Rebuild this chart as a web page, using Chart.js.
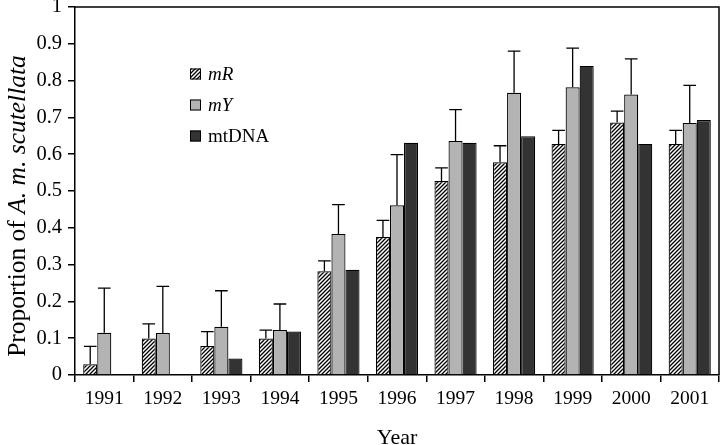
<!DOCTYPE html>
<html>
<head>
<meta charset="utf-8">
<script src="https://cdn.jsdelivr.net/npm/chart.js@4.4.0/dist/chart.umd.min.js"></script>
<style>
  html, body { margin: 0; padding: 0; background: #fff; }
  #wrap { width: 720px; height: 445px; }
</style>
</head>
<body>
<div id="wrap"><canvas id="chart" width="720" height="445"></canvas></div>
<script>
// data
const years = ['1991', '1992', '1993', '1994', '1995', '1996', '1997', '1998', '1999', '2000', '2001'];
const mR     = [0.029, 0.099, 0.079, 0.099, 0.282, 0.375, 0.527, 0.578, 0.628, 0.686, 0.628];
const mY     = [0.115, 0.114, 0.131, 0.122, 0.383, 0.461, 0.636, 0.767, 0.782, 0.762, 0.685];
const mtDNA  = [0, 0, 0.045, 0.118, 0.286, 0.631, 0.631, 0.649, 0.840, 0.628, 0.693];
// tops of the error bars
const mRErrTop = [0.078, 0.139, 0.118, 0.122, 0.310, 0.420, 0.563, 0.623, 0.665, 0.717, 0.665];
const mYErrTop = [0.236, 0.241, 0.229, 0.193, 0.463, 0.599, 0.721, 0.880, 0.888, 0.859, 0.787];
const yTickLabels = ['0', '0.1', '0.2', '0.3', '0.4', '0.5', '0.6', '0.7', '0.8', '0.9', '1'];
const seriesNames = ['mR', 'mY', 'mtDNA'];

const SERIF = '"Liberation Serif", "DejaVu Serif", serif';

function hatch() {
    const c = document.createElement('canvas');
    c.width = 4; c.height = 4;
    const g = c.getContext('2d');
    g.fillStyle = '#fff';
    g.fillRect(0, 0, 4, 4);
    g.strokeStyle = '#000';
    g.lineWidth = 1.3;
    g.beginPath();
    g.moveTo(-1, 5); g.lineTo(5, -1);
    g.moveTo(-1, 1); g.lineTo(1, -1);
    g.moveTo(3, 5); g.lineTo(5, 3);
    g.stroke();
    return g.createPattern(c, 'repeat');
}

const ctx = document.getElementById('chart').getContext('2d');
const fills = [hatch(), '#b3b3b3', '#333333'];

// error bars, upper side only
const errorBars = {
    id: 'errorBars',
    afterDatasetsDraw(chart) {
        const c = chart.ctx;
        const y = chart.scales.y;
        c.save();
        c.strokeStyle = '#000';
        c.lineWidth = 1.3;
        chart.data.datasets.forEach((ds, i) => {
            if (!ds.errTop) return;
            chart.getDatasetMeta(i).data.forEach((bar, j) => {
                const top = y.getPixelForValue(ds.errTop[j]);
                const half = bar.width * 0.45;
                c.beginPath();
                c.moveTo(bar.x, bar.y);
                c.lineTo(bar.x, top);
                c.moveTo(bar.x - half, top);
                c.lineTo(bar.x + half, top);
                c.stroke();
            });
        });
        c.restore();
    }
};

// frame, legend and axis titles
const decor = {
    id: 'decor',
    afterDraw(chart) {
        const c = chart.ctx;
        const a = chart.chartArea;
        c.save();
        c.strokeStyle = '#000';
        c.lineWidth = 1.5;
        c.beginPath();
        c.moveTo(a.left, a.top);
        c.lineTo(a.right, a.top);
        c.lineTo(a.right, a.bottom);
        c.stroke();

        // legend
        c.textBaseline = 'middle';
        chart.data.datasets.forEach((ds, i) => {
            const ly = a.top + 67 + i * 31;
            const lx = a.left + 115;
            c.fillStyle = ds.backgroundColor;
            c.fillRect(lx, ly - 5.5, 11, 11);
            c.lineWidth = 1;
            c.strokeStyle = '#000';
            c.strokeRect(lx + 0.5, ly - 5, 10, 10);
            c.fillStyle = '#000';
            c.font = (i < 2 ? 'italic ' : '') + '19px ' + SERIF;
            c.fillText(ds.label, lx + 18, ly + 1);
        });

        // x title
        c.textAlign = 'center';
        c.textBaseline = 'alphabetic';
        c.font = '22px ' + SERIF;
        c.fillText('Year', (a.left + a.right) / 2, 444);

        // y title
        c.textBaseline = 'middle';
        c.translate(18, 206);
        c.rotate(-Math.PI / 2);
        const p1 = 'Proportion of ';
        const p2 = 'A. m. scutellata';
        c.font = '25.5px ' + SERIF;
        const w1 = c.measureText(p1).width;
        c.font = 'italic 25.5px ' + SERIF;
        const w2 = c.measureText(p2).width;
        const x0 = -(w1 + w2) / 2;
        c.textAlign = 'left';
        c.font = '25.5px ' + SERIF;
        c.fillText(p1, x0, 0);
        c.font = 'italic 25.5px ' + SERIF;
        c.fillText(p2, x0 + w1, 0);
        c.restore();
    }
};

new Chart(ctx, {
    type: 'bar',
    data: {
        labels: years,
        datasets: [
            { label: seriesNames[0], data: mR, errTop: mRErrTop, backgroundColor: fills[0] },
            { label: seriesNames[1], data: mY, errTop: mYErrTop, backgroundColor: fills[1] },
            { label: seriesNames[2], data: mtDNA, backgroundColor: fills[2] }
        ].map(d => Object.assign(d, {
            borderColor: '#000',
            borderWidth: 1.2,
            categoryPercentage: 0.72,
            barPercentage: 1.0
        }))
    },
    options: {
        responsive: false,
        animation: false,
        devicePixelRatio: 1,
        layout: { padding: { top: 7, right: 1, left: 0, bottom: 0 } },
        plugins: {
            legend: { display: false },
            tooltip: { enabled: false }
        },
        scales: {
            x: {
                afterFit(scale) { scale.height = 70; scale.paddingLeft = 0; scale.paddingRight = 0; },
                grid: {
                    offset: true,
                    drawOnChartArea: false,
                    drawTicks: true,
                    tickLength: 7,
                    color: '#000',
                    lineWidth: 1.5
                },
                border: { display: true, color: '#000', width: 1.5 },
                ticks: {
                    color: '#000',
                    font: { family: SERIF, size: 19.5 },
                    padding: 5,
                    maxRotation: 0
                }
            },
            y: {
                min: 0,
                max: 1,
                afterFit(scale) { scale.width = 75; scale.paddingTop = 0; scale.paddingBottom = 0; },
                grid: {
                    drawOnChartArea: false,
                    drawTicks: true,
                    tickLength: 7,
                    color: '#000',
                    lineWidth: 1.5
                },
                border: { display: true, color: '#000', width: 1.5 },
                ticks: {
                    stepSize: 0.1,
                    color: '#000',
                    font: { family: SERIF, size: 20.5 },
                    padding: 6,
                    callback: (v, i) => yTickLabels[i]
                }
            }
        }
    },
    plugins: [errorBars, decor]
});
</script>
</body>
</html>
